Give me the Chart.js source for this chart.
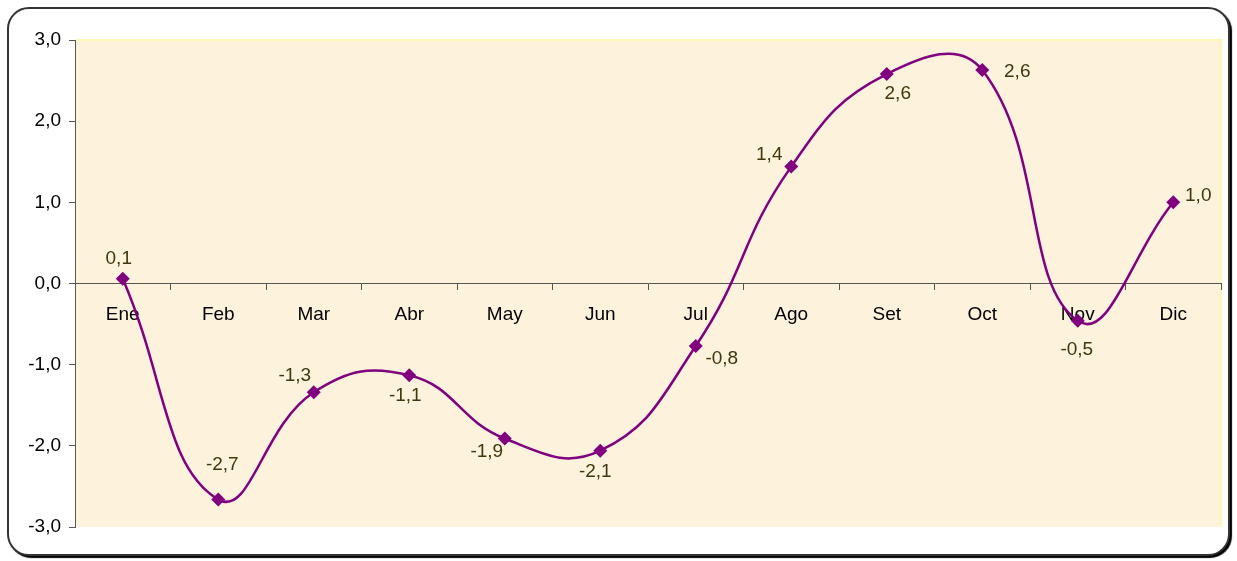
<!DOCTYPE html>
<html>
<head>
<meta charset="utf-8">
<script src="https://cdn.jsdelivr.net/npm/chart.js@4"></script>
<style>
  html, body { margin: 0; padding: 0; background: #fff; }
  body { width: 1237px; height: 561px; position: relative; overflow: hidden; }
  .frame {
    position: absolute; left: 7px; top: 7px;
    width: 1219px; height: 545px;
    border: 2px solid #333; border-radius: 22px;
    box-shadow: 2px 2px 1px #000;
    background: #fff;
  }
  #chart { position: absolute; left: 0; top: 0; }
</style>
</head>
<body>
<div class="frame"></div>
<canvas id="chart" width="1237" height="561"></canvas>
<script>
// month categories and values
const months = ['Ene', 'Feb', 'Mar', 'Abr', 'May', 'Jun', 'Jul', 'Ago', 'Set', 'Oct', 'Nov', 'Dic'];
const values = [0.06, -2.66, -1.34, -1.13, -1.91, -2.06, -0.77, 1.44, 2.58, 2.63, -0.46, 1.0];
const yTicks = [-3, -2, -1, 0, 1, 2, 3];

const fmt = v => v.toFixed(1).replace('.', ',');
const baseFont = { family: "'Liberation Sans', Arial, sans-serif", size: 19 };

// label placement around each marker (dx, dy in px)
const labelOffsets = [
  [-4, -20], [4, -35], [-19, -16], [-4, 21], [-18, 13], [-5, 21],
  [26, 13], [-22, -12], [11, 20], [35, 2], [-1, 29], [25, -7]
];

const plotBackground = {
  id: 'plotBackground',
  beforeDraw(chart) {
    const { ctx, chartArea: a } = chart;
    ctx.save();
    ctx.fillStyle = '#FDF2DC';
    ctx.fillRect(a.left, a.top, a.right - a.left, a.bottom - a.top);
    ctx.strokeStyle = '#FFF6B8';
    ctx.lineWidth = 2;
    ctx.beginPath();
    ctx.moveTo(a.left, a.top);
    ctx.lineTo(a.right, a.top);
    ctx.lineTo(a.right, a.bottom);
    ctx.stroke();
    ctx.restore();
  }
};

const pointLabels = {
  id: 'pointLabels',
  afterDatasetsDraw(chart) {
    const { ctx } = chart;
    const meta = chart.getDatasetMeta(0);
    ctx.save();
    ctx.font = baseFont.size + 'px ' + baseFont.family;
    ctx.fillStyle = '#3A3A0C';
    ctx.textAlign = 'center';
    ctx.textBaseline = 'middle';
    meta.data.forEach((pt, i) => {
      const off = labelOffsets[i];
      ctx.fillText(fmt(values[i]), pt.x + off[0], pt.y + off[1]);
    });
    ctx.restore();
  }
};

new Chart(document.getElementById('chart'), {
  type: 'line',
  data: {
    labels: months,
    datasets: [{
      data: values,
      borderColor: '#800080',
      backgroundColor: '#800080',
      borderWidth: 2.5,
      tension: 0.45,
      pointStyle: 'rectRot',
      pointRadius: 7,
      pointBorderWidth: 0,
      fill: false
    }]
  },
  options: {
    responsive: false,
    animation: false,
    layout: { padding: { top: 40, bottom: 34, left: 0, right: 16 } },
    plugins: { legend: { display: false }, tooltip: { enabled: false } },
    scales: {
      x: {
        position: { y: 0 },
        offset: true,
        grid: { offset: true, drawOnChartArea: false, tickLength: 6, color: '#555' },
        border: { color: '#555', width: 1 },
        ticks: { color: '#000', font: baseFont, padding: 14, maxRotation: 0, autoSkip: false }
      },
      y: {
        min: yTicks[0],
        max: yTicks[yTicks.length - 1],
        afterFit(scale) { scale.width = 75; },
        afterBuildTicks(scale) { scale.ticks = yTicks.map(v => ({ value: v })); },
        grid: { drawOnChartArea: false, tickLength: 6, color: '#555' },
        border: { color: '#555', width: 1 },
        ticks: { color: '#000', font: baseFont, padding: 8, callback: v => fmt(v) }
      }
    }
  },
  plugins: [plotBackground, pointLabels]
});
</script>
</body>
</html>
